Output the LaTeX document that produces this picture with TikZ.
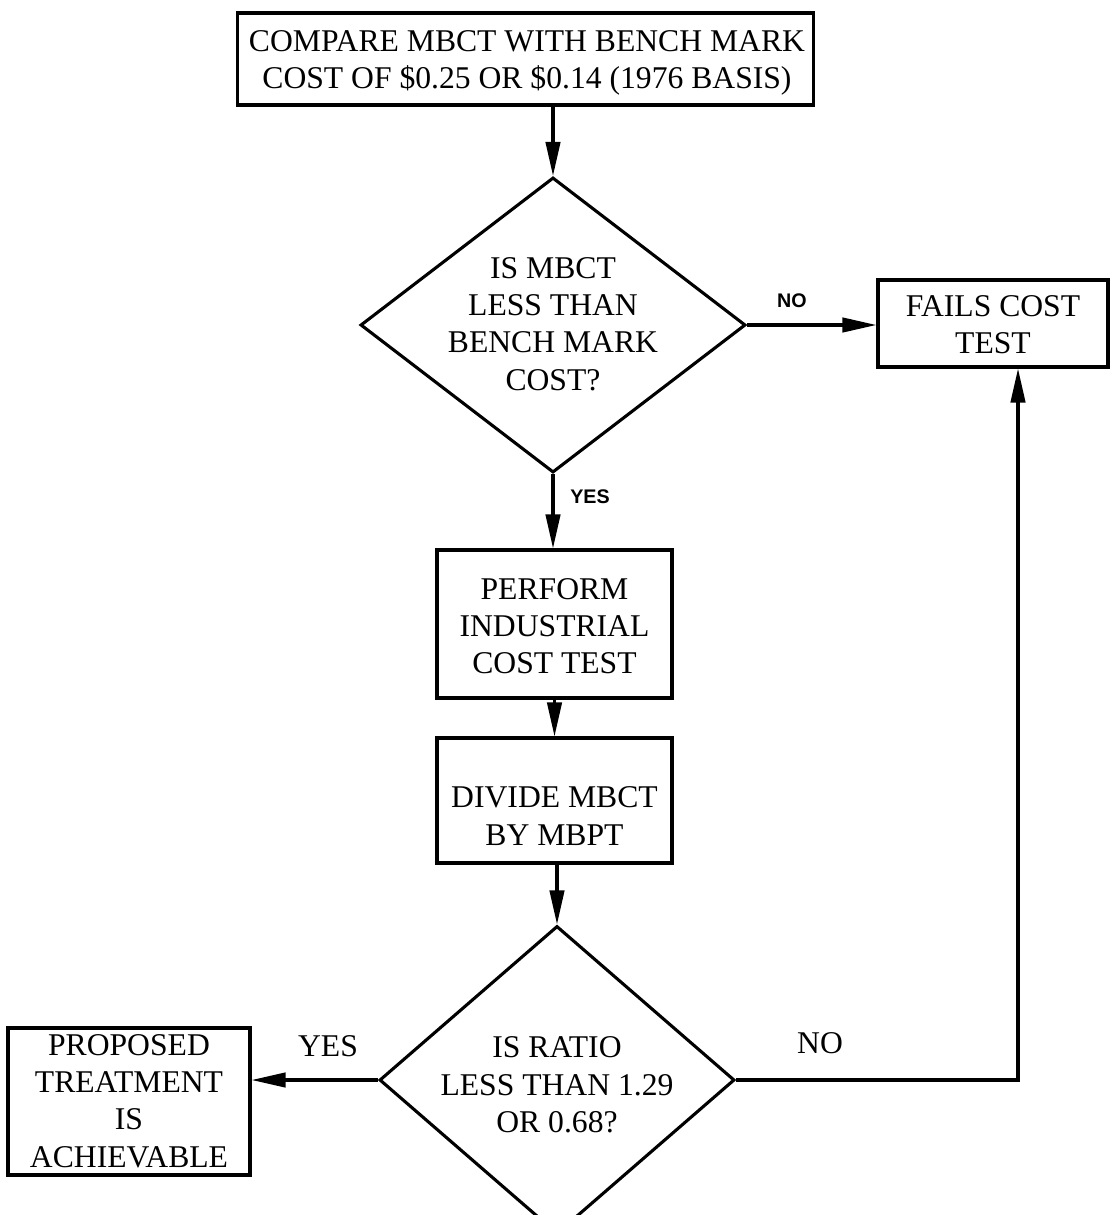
\documentclass[tikz,border=0pt]{standalone}
\usepackage{fontspec}
\setmainfont{Liberation Serif}
\newfontfamily\labelsans{Liberation Sans}
\usetikzlibrary{shapes.geometric,arrows.meta}

\tikzset{
  every picture/.style={x=0.025cm,y=-0.025cm},
  boxnode/.style={draw,line width=2.2pt,inner sep=0pt},
  decision/.style={draw,diamond,line width=2.2pt,inner sep=0pt},
  boxtext/.style={align=center,inner sep=0pt,font=\fontsize{22.5}{26.5}\selectfont},
  flow/.style={line width=2.2pt,-{Triangle[length=0.85cm,width=0.36cm]}},
  sanslabel/.style={font=\labelsans\bfseries\fontsize{14}{16}\selectfont,inner sep=0pt},
  seriflabel/.style={font=\fontsize{22.5}{26}\selectfont,inner sep=0pt}
}

\begin{document}
\begin{tikzpicture}
\useasboundingbox (0,0) rectangle (1112,1215);

% process boxes
\node[boxnode,minimum width=14.4cm,minimum height=2.3cm] (compare) at (525.5,59) {};
\node[boxtext] (comparet) at (527,63)
  {COMPARE MBCT WITH BENCH MARK\\COST OF \$0.25 OR \$0.14 (1976 BASIS)};
\node[boxnode,minimum width=5.75cm,minimum height=2.175cm] (fails) at (993,323.5) {};
\node[boxtext] (failst) at (993,325) {FAILS COST\\TEST};
\node[boxnode,minimum width=5.875cm,minimum height=3.7cm] (perform) at (554.5,624) {};
\node[boxtext] (performt) at (554.5,626) {PERFORM\\INDUSTRIAL\\COST TEST};
\node[boxnode,minimum width=5.875cm,minimum height=3.125cm] (divide) at (554.5,800.5) {};
\node[boxtext] (dividet) at (554.5,816) {DIVIDE MBCT\\BY MBPT};
\node[boxnode,minimum width=6.05cm,minimum height=3.675cm] (proposed) at (129,1101.5) {};
\node[boxtext] (proposedt) at (129,1101) {PROPOSED\\TREATMENT\\IS\\ACHIEVABLE};

% decisions
\node[decision,minimum width=9.625cm,minimum height=7.375cm] (cost) at (553,325) {};
\node[boxtext] (costq) at (553,324) {IS MBCT\\LESS THAN\\BENCH MARK\\COST?};
\node[decision,minimum width=8.875cm,minimum height=7.7cm] (ratio) at (557,1080) {};
\node[boxtext] (ratioq) at (557,1085) {IS RATIO\\LESS THAN 1.29\\OR 0.68?};

% connectors
\draw[flow] (compare.south -| cost.north) -- (cost.north);
\draw[flow] (cost.east) -- (cost.east -| fails.west);
\draw[flow] (cost.south) -- (cost.south |- perform.north);
\draw[flow] (perform.south) -- (divide.north);
\draw[flow] (ratio.north |- divide.south) -- (ratio.north);
\draw[flow] (ratio.west) -- (ratio.west -| proposed.east);
\coordinate (loop) at (1018,1080);
\draw[flow] (ratio.east) -- (loop) -- (loop |- fails.south);

% branch labels
\node[sanslabel] (no1) at (792,301) {NO};
\node[sanslabel] (yes1) at (590,497) {YES};
\node[seriflabel] (yes2) at (328,1046) {YES};
\node[seriflabel] (no2) at (820,1043) {NO};
\end{tikzpicture}
\end{document}
